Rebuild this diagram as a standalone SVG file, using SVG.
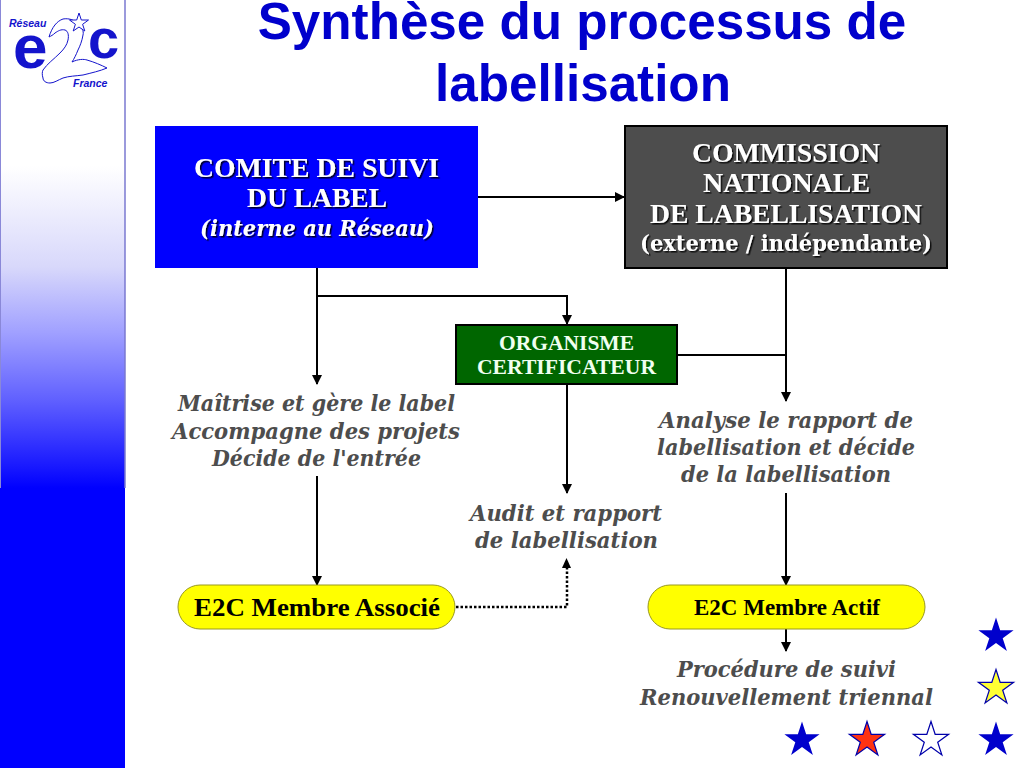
<svg xmlns="http://www.w3.org/2000/svg" xmlns:xlink="http://www.w3.org/1999/xlink" width="1024" height="768" viewBox="0 0 1024 768">
<style>
text{text-anchor:middle}
.title{font:bold 51.200px "Liberation Sans",Arial,sans-serif;fill:#0000cc}
.box{font:bold 27px "Liberation Serif",serif;fill:#fff;filter:url(#sh)}
.boxi{font:italic bold 23px "DejaVu Serif",serif;fill:#fff;filter:url(#sh)}
.boxp{font:bold 23px "DejaVu Serif",serif;fill:#fff;filter:url(#sh)}
.org{font:bold 21px "Liberation Serif",serif;fill:#f0fff0}
.note{font:italic bold 23px "DejaVu Serif",serif;fill:#4d4d4d}
.pill{fill:#ffff00;stroke:#99991f;stroke-width:1}
.pt{font:bold 26px "Liberation Serif",serif;fill:#000}
.c{fill:none;stroke:#000;stroke-width:2}
.blue{fill:#1414cc;text-anchor:start}
.s1{stroke:#0000aa;stroke-width:1.200}
</style>
<defs>
<linearGradient id="band" gradientUnits="userSpaceOnUse" x1="0" y1="0" x2="0" y2="488"><stop offset="0.340" stop-color="#ffffff"/><stop offset="0.547" stop-color="#d8d8fb"/><stop offset="0.682" stop-color="#a0a0ff"/><stop offset="0.820" stop-color="#6060ff"/><stop offset="0.957" stop-color="#1818ff"/><stop offset="1" stop-color="#0000ff"/></linearGradient>
<filter id="sh" x="-10%" y="-20%" width="120%" height="150%"><feDropShadow dx="1.500" dy="1.500" stdDeviation="0.500" flood-color="#000" flood-opacity="0.850"/></filter>
<marker id="ah" markerUnits="userSpaceOnUse" markerWidth="10" markerHeight="10" refX="9" refY="5" orient="auto"><path d="M0 0L10 5L0 10Z" fill="#000"/></marker>
<polygon id="star" points="0,-18.500 4.150,-5.700 17.600,-5.700 6.700,2.200 10.900,15 0,7.070 -10.900,15 -6.700,2.200 -17.600,-5.700 -4.150,-5.700"/>
</defs>
<rect width="1024" height="768" fill="#fff"/>
<g id="sidebar">
<rect x="0" y="0" width="125" height="488" fill="url(#band)"/>
<rect x="0" y="488" width="125" height="280" fill="#0000ff"/>
<path d="M125 0V488" stroke="#7a78d0" stroke-width="1.500" fill="none"/>
<path d="M0.500 0V488" stroke="#8a88d8" stroke-width="1" fill="none"/>
</g>
<g id="logo">
<text x="9" y="27" style="font:italic bold 10.500px 'Liberation Sans',sans-serif" class="blue">Réseau</text>
<text x="13" y="68" style="font:bold 62px 'Liberation Sans',sans-serif" class="blue">e</text>
<text x="88" y="58" style="font:bold 56px 'Liberation Sans',sans-serif" class="blue">c</text>
<text x="73" y="87" style="font:italic bold 10.500px 'Liberation Sans',sans-serif" class="blue">France</text>
<path d="M49 37C52 27 57 21 63 19C69 18 74 20 77 23C82 27 84 31 83 35C82 41 80 46 78 50C76 55 74 59 72 62C78 59 84 59 87 60C94 62 101 65 107 68C100 71 91 73 83 75C76 76 69 76 63 78C58 80 54 83 50 83C46 83 43 81 43 78C42 75 42 72 43 70C47 64 54 59 60 53C64 49 67 45 68 40C69 35 68 31 65 30C61 29 58 31 55 33C53 35 51 36 49 37Z" fill="#fff" stroke="#1414cc" stroke-width="1"/>
<polygon points="79,13 81.300,20 88.500,20 82.600,24.300 84.800,31 79,27 73.200,31 75.400,24.300 69.500,20 76.700,20" fill="#fff" stroke="#1414cc" stroke-width="1"/>
</g>
<text class="title" x="582" y="39">Synthèse du processus de</text>
<text class="title" x="583" y="101">labellisation</text>
<g id="connectors">
<path class="c" d="M478 197H624" marker-end="url(#ah)"/>
<path class="c" d="M317 268V384" marker-end="url(#ah)"/>
<path class="c" d="M317 296H567V324" marker-end="url(#ah)"/>
<path class="c" d="M786 268V401" marker-end="url(#ah)"/>
<path class="c" d="M678 355H786"/>
<path class="c" d="M567 385V493" marker-end="url(#ah)"/>
<path class="c" d="M317 476V585" marker-end="url(#ah)"/>
<path class="c" d="M786 493V585" marker-end="url(#ah)"/>
<path class="c" d="M786 629V651" marker-end="url(#ah)"/>
<path d="M456 607H567V568" fill="none" stroke="#000" stroke-width="2.500" stroke-dasharray="2.500 2"/>
<path d="M562 568L566.500 558L571 568Z" fill="#000"/>
</g>
<g id="comite">
<rect x="155" y="126" width="323" height="142" fill="#0000ff"/>
<text class="box" x="316.500" y="177" textLength="245" lengthAdjust="spacingAndGlyphs">COMITE DE SUIVI</text>
<text class="box" x="317" y="207" textLength="140" lengthAdjust="spacingAndGlyphs">DU LABEL</text>
<text class="boxi" x="317" y="236" textLength="234" lengthAdjust="spacingAndGlyphs">(interne au Réseau)</text>
</g>
<g id="commission">
<rect x="625" y="126" width="322" height="142" fill="#4d4d4d" stroke="#000" stroke-width="2"/>
<text class="box" x="786" y="162" textLength="188" lengthAdjust="spacingAndGlyphs">COMMISSION</text>
<text class="box" x="786.500" y="192" textLength="167" lengthAdjust="spacingAndGlyphs">NATIONALE</text>
<text class="box" x="786" y="223" textLength="272" lengthAdjust="spacingAndGlyphs">DE LABELLISATION</text>
<text class="boxp" x="786" y="251" textLength="292" lengthAdjust="spacingAndGlyphs">(externe / indépendante)</text>
</g>
<g id="organisme">
<rect x="456" y="325" width="221" height="59" fill="#006600" stroke="#000" stroke-width="2"/>
<text class="org" x="566.500" y="350" textLength="135" lengthAdjust="spacingAndGlyphs">ORGANISME</text>
<text class="org" x="566.500" y="374" textLength="179" lengthAdjust="spacingAndGlyphs">CERTIFICATEUR</text>
</g>
<g id="note-comite">
<text class="note" x="316.500" y="411" textLength="277" lengthAdjust="spacingAndGlyphs">Maîtrise et gère le label</text>
<text class="note" x="316" y="439" textLength="288" lengthAdjust="spacingAndGlyphs">Accompagne des projets</text>
<text class="note" x="316.500" y="466" textLength="209" lengthAdjust="spacingAndGlyphs">Décide de l'entrée</text>
</g>
<g id="note-commission">
<text class="note" x="786" y="428" textLength="254" lengthAdjust="spacingAndGlyphs">Analyse le rapport de</text>
<text class="note" x="786" y="455" textLength="258" lengthAdjust="spacingAndGlyphs">labellisation et décide</text>
<text class="note" x="786" y="482" textLength="210" lengthAdjust="spacingAndGlyphs">de la labellisation</text>
</g>
<g id="note-audit">
<text class="note" x="566" y="521" textLength="192" lengthAdjust="spacingAndGlyphs">Audit et rapport</text>
<text class="note" x="566.500" y="548" textLength="183" lengthAdjust="spacingAndGlyphs">de labellisation</text>
</g>
<g id="associe">
<rect class="pill" x="178" y="585" width="277" height="44" rx="22"/>
<text class="pt" x="317" y="616" textLength="246" lengthAdjust="spacingAndGlyphs">E2C Membre Associé</text>
</g>
<g id="actif">
<rect class="pill" x="648" y="585" width="277" height="44" rx="22"/>
<text class="pt" x="787" y="615" style="font-size:23px" textLength="186" lengthAdjust="spacingAndGlyphs">E2C Membre Actif</text>
</g>
<g id="note-suivi">
<text class="note" x="786.500" y="677" textLength="219" lengthAdjust="spacingAndGlyphs">Procédure de suivi</text>
<text class="note" x="786.500" y="705" textLength="293" lengthAdjust="spacingAndGlyphs">Renouvellement triennal</text>
</g>
<g id="stars">
<use xlink:href="#star" href="#star" x="996" y="636" fill="#0000cc"/>
<use xlink:href="#star" href="#star" x="996" y="688" fill="#ffff33" class="s1"/>
<use xlink:href="#star" href="#star" x="802" y="740" fill="#0000cc"/>
<use xlink:href="#star" href="#star" x="867" y="740" fill="#ff3311" class="s1"/>
<use xlink:href="#star" href="#star" x="931" y="740" fill="#fff" class="s1"/>
<use xlink:href="#star" href="#star" x="996" y="740" fill="#0000cc"/>
</g>
</svg>
